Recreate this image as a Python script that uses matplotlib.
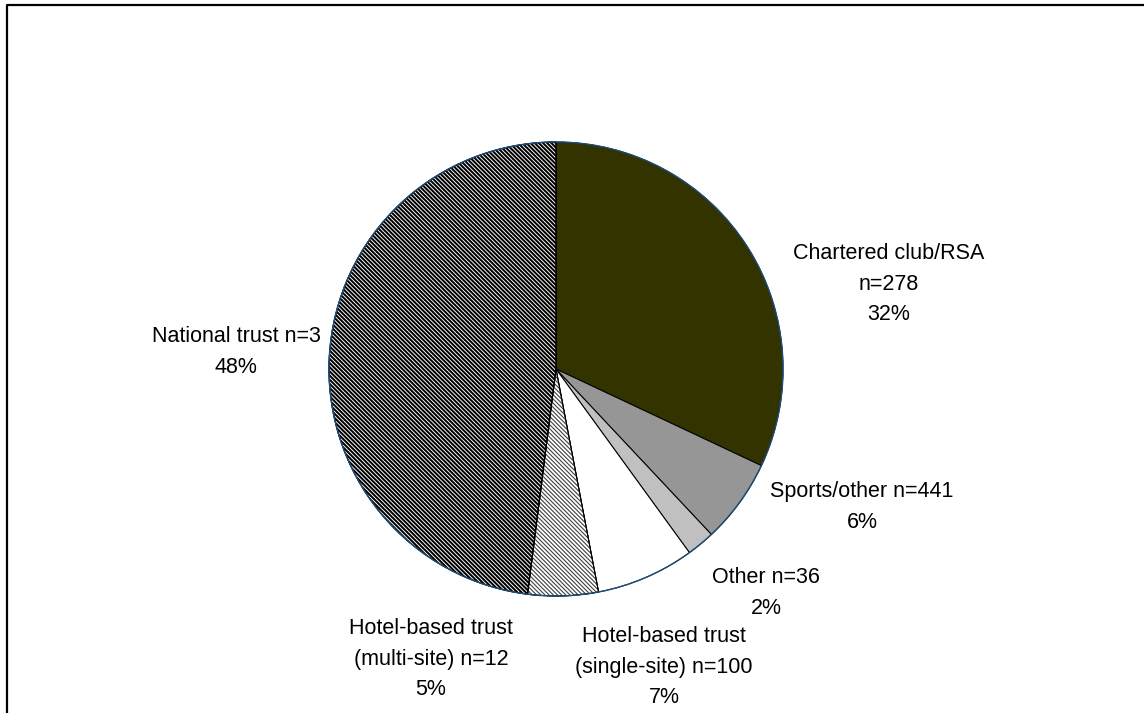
import matplotlib
matplotlib.use("Agg")
import matplotlib.pyplot as plt
from matplotlib.patches import Wedge, Circle
from matplotlib.lines import Line2D

# Share of establishments by ownership type (%), clockwise from 12 o'clock
categories = ["Chartered club/RSA", "Sports/other", "Other",
              "Hotel-based trust (single-site)", "Hotel-based trust (multi-site)",
              "National trust"]
counts = [278, 441, 36, 100, 12, 3]
shares = [32, 6, 2, 7, 5, 48]
labels = [
    "Chartered club/RSA\nn=278\n32%",
    "Sports/other n=441\n6%",
    "Other n=36\n2%",
    "Hotel-based trust\n(single-site) n=100\n7%",
    "Hotel-based trust\n(multi-site) n=12\n5%",
    "National trust n=3\n48%",
]

W, H = 1144, 713
fig = plt.figure(figsize=(W / 100, H / 100), dpi=100)
ax = fig.add_axes([0, 0, 1, 1])
ax.set_xlim(0, W)
ax.set_ylim(0, H)
ax.set_aspect("equal")
ax.axis("off")

cx, cy, r = 556, H - 369, 227

faces = ["#333300", "#969696", "#c0c0c0", "#ffffff", "#ffffff", "#ffffff"]
hatches = [None, None, None, None, "\\" * 8, "\\" * 8]
hatch_cols = [None, None, None, None, "#404040", "#000000"]
hatch_lw = [None, None, None, None, 0.8, 1.45]

wedges, _ = ax.pie(shares, startangle=90, counterclock=False, center=(cx, cy),
                   radius=r, colors=faces,
                   wedgeprops=dict(edgecolor="black", linewidth=0.75))
ax.set_xlim(0, W)
ax.set_ylim(0, H)

for w, h, hc, hl in zip(wedges, hatches, hatch_cols, hatch_lw):
    if h is None:
        continue
    with plt.rc_context({"hatch.linewidth": hl, "hatch.color": hc}):
        hw = Wedge(w.center, w.r, w.theta1, w.theta2, facecolor="none",
                   edgecolor=hc, hatch=h, linewidth=0)
        if hasattr(hw, "set_hatch_linewidth"):
            hw.set_hatch_linewidth(hl)
        ax.add_patch(hw)
    ax.add_patch(Wedge(w.center, w.r, w.theta1, w.theta2, facecolor="none",
                       edgecolor="black", linewidth=0.75))

# outer rim
ax.add_patch(Circle((cx, cy), r, facecolor="none", edgecolor="#1f4e79",
                    linewidth=1.0, zorder=5))

# label block centres in pixel coordinates
label_pos = [(889, 284), (862, 507), (766, 593), (664, 667), (431, 659), (236, 352)]
for txt, (x, y) in zip(labels, label_pos):
    ax.text(x, H - y, txt, ha="center", va="center", fontsize=15.5,
            family="Liberation Sans", linespacing=1.62, color="black")

# chart frame (left and top edges)
fig.add_artist(Line2D([6.5 / W, 6.5 / W, 1.0], [0.0, 1 - 4.5 / H, 1 - 4.5 / H],
                      transform=fig.transFigure, color="black", linewidth=1.6))

fig.savefig("out.png", dpi=100)
